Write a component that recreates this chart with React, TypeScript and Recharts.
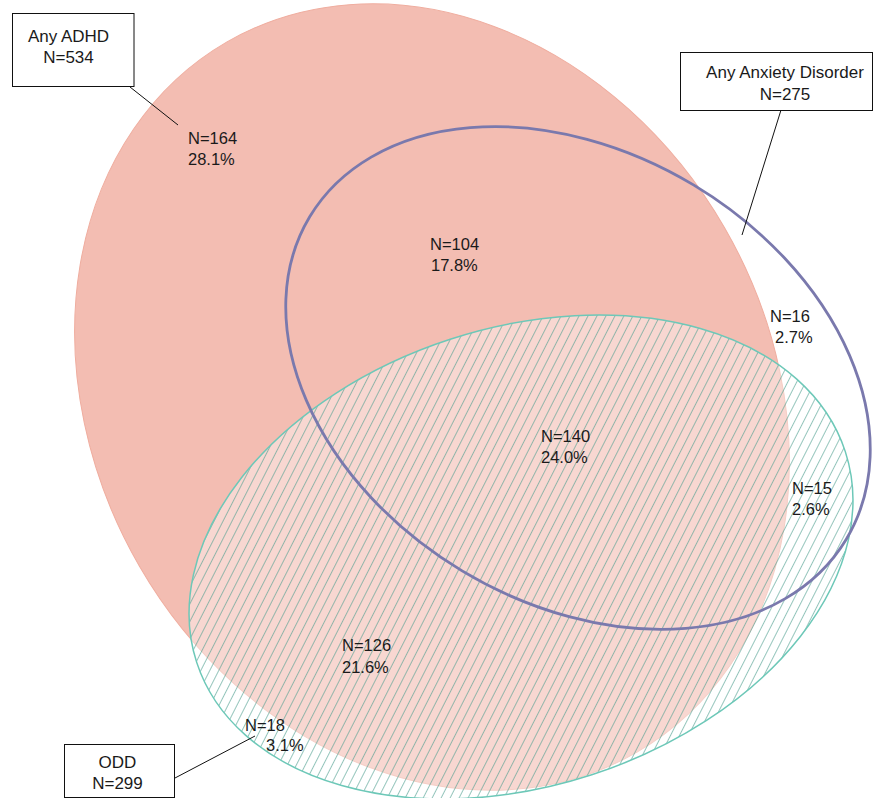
import React from "react";
import { ScatterChart, Scatter, XAxis, YAxis } from "recharts";

// what the diagram says
const setNames = ["Any ADHD", "Any Anxiety Disorder", "ODD"];
const setCounts = [534, 275, 299];
const regionCounts = [164, 104, 16, 140, 15, 126, 18];
const regionPercents = ["28.1%", "17.8%", "2.7%", "24.0%", "2.6%", "21.6%", "3.1%"];

// layout, in plot units (axes run over the whole picture, y downwards)
const CHART_W = 874;
const CHART_H = 798;
const X_DOMAIN = [0, 874];
const Y_DOMAIN = [0, 798];
const PX = CHART_W / (X_DOMAIN[1] - X_DOMAIN[0]);

// order: ADHD, anxiety, ODD
const ellipseLayout = [
  { x: 432, y: 397, rx: 410, ry: 338, angle: 60 },
  { x: 578, y: 378, rx: 313, ry: 225, angle: 31 },
  { x: 521, y: 557, rx: 341, ry: 229, angle: -18 },
];
// [x1, y1, x2, y2] : left edge / middle of each line
const regionTextPos = [
  [188, 137.5, 188, 159],
  [430, 244, 431, 265],
  [770, 315.5, 775, 337],
  [541, 435.5, 541, 457],
  [792, 488, 792, 509],
  [342, 645, 342, 666.5],
  [245, 725, 266, 745],
];
// box rect [x0, y0, x1, y1] and text [cx, y1, y2]
const boxRects = [
  [12.5, 13.5, 134, 86.5],
  [680.5, 52.5, 872.5, 110.5],
  [64.5, 744.5, 174.5, 797.5],
];
const boxTextPos = [
  [68.5, 36.7, 57.8],
  [785, 72.8, 94.5],
  [117.5, 762.5, 783.8],
];
const leaderLines = [
  [[130, 87], [178, 125]],
  [[781, 110], [742, 235]],
  [[175, 778], [255, 736]],
];

const FONT = "Arial, 'Liberation Sans', sans-serif";

const adhdData = [ellipseLayout[0]];
const anxData = [ellipseLayout[1]];
const oddData = [ellipseLayout[2]];

const boxData = boxRects.map((r) => ({
  x: (r[0] + r[2]) / 2,
  y: (r[1] + r[3]) / 2,
  w: r[2] - r[0],
  h: r[3] - r[1],
}));

const textData = [
  ...regionCounts.flatMap((n, i) => [
    { x: regionTextPos[i][0], y: regionTextPos[i][1], text: `N=${n}`, anchor: "start", size: 16.5 },
    { x: regionTextPos[i][2], y: regionTextPos[i][3], text: regionPercents[i], anchor: "start", size: 16.5 },
  ]),
  ...setNames.flatMap((name, i) => [
    { x: boxTextPos[i][0], y: boxTextPos[i][1], text: name, anchor: "middle", size: 17 },
    { x: boxTextPos[i][0], y: boxTextPos[i][2], text: `N=${setCounts[i]}`, anchor: "middle", size: 17 },
  ]),
];

const ellipseAttrs = (p: any) => {
  const e = p.payload;
  return {
    cx: p.cx,
    cy: p.cy,
    rx: e.rx * PX,
    ry: e.ry * PX,
    transform: `rotate(${e.angle} ${p.cx} ${p.cy})`,
  };
};

const AdhdShape = (p: any) => (
  <ellipse {...ellipseAttrs(p)} fill="#f3bdb2" stroke="#efad9f" strokeWidth={1} />
);

// hatch runs bottom-left to top-right ("/")
const OddShape = (p: any) => (
  <g>
    <defs>
      <pattern id="oddHatch" patternUnits="userSpaceOnUse" width={8} height={8} patternTransform="rotate(45)">
        <line x1={0} y1={0} x2={0} y2={8} stroke="#4c9e8e" strokeWidth={1.2} />
      </pattern>
    </defs>
    <ellipse {...ellipseAttrs(p)} fill="#ffffff" fillOpacity={0.4} stroke="none" />
    <ellipse {...ellipseAttrs(p)} fill="url(#oddHatch)" stroke="#6dc8b8" strokeWidth={1.5} />
  </g>
);

const AnxShape = (p: any) => (
  <ellipse {...ellipseAttrs(p)} fill="none" stroke="#7a79ad" strokeWidth={2.8} />
);

const BoxShape = (p: any) => {
  const w = p.payload.w * PX;
  const h = p.payload.h * PX;
  return <rect x={p.cx - w / 2} y={p.cy - h / 2} width={w} height={h} fill="#fff" stroke="#111" strokeWidth={1} />;
};

const TextShape = (p: any) => (
  <text
    x={p.cx}
    y={p.cy}
    textAnchor={p.payload.anchor}
    dominantBaseline="central"
    fontFamily={FONT}
    fontSize={p.payload.size}
    fill="#1a1a1a"
  >
    {p.payload.text}
  </text>
);

const NoDot = () => <g />;

export default function App() {
  return (
    <div style={{ position: "absolute", left: 0, top: 0, background: "#fff" }}>
      <ScatterChart width={CHART_W} height={CHART_H} margin={{ top: 0, right: 0, bottom: 0, left: 0 }}>
        <XAxis type="number" dataKey="x" domain={X_DOMAIN} allowDataOverflow hide />
        <YAxis type="number" dataKey="y" domain={Y_DOMAIN} allowDataOverflow reversed hide />
        <Scatter data={adhdData} shape={AdhdShape} isAnimationActive={false} />
        <Scatter data={oddData} shape={OddShape} isAnimationActive={false} />
        <Scatter data={anxData} shape={AnxShape} isAnimationActive={false} />
        {leaderLines.map((seg, i) => (
          <Scatter
            key={`leader-${i}`}
            data={seg.map(([x, y]) => ({ x, y }))}
            line={{ stroke: "#111", strokeWidth: 1 }}
            shape={NoDot}
            isAnimationActive={false}
          />
        ))}
        <Scatter data={boxData} shape={BoxShape} isAnimationActive={false} />
        <Scatter data={textData} shape={TextShape} isAnimationActive={false} />
      </ScatterChart>
    </div>
  );
}
